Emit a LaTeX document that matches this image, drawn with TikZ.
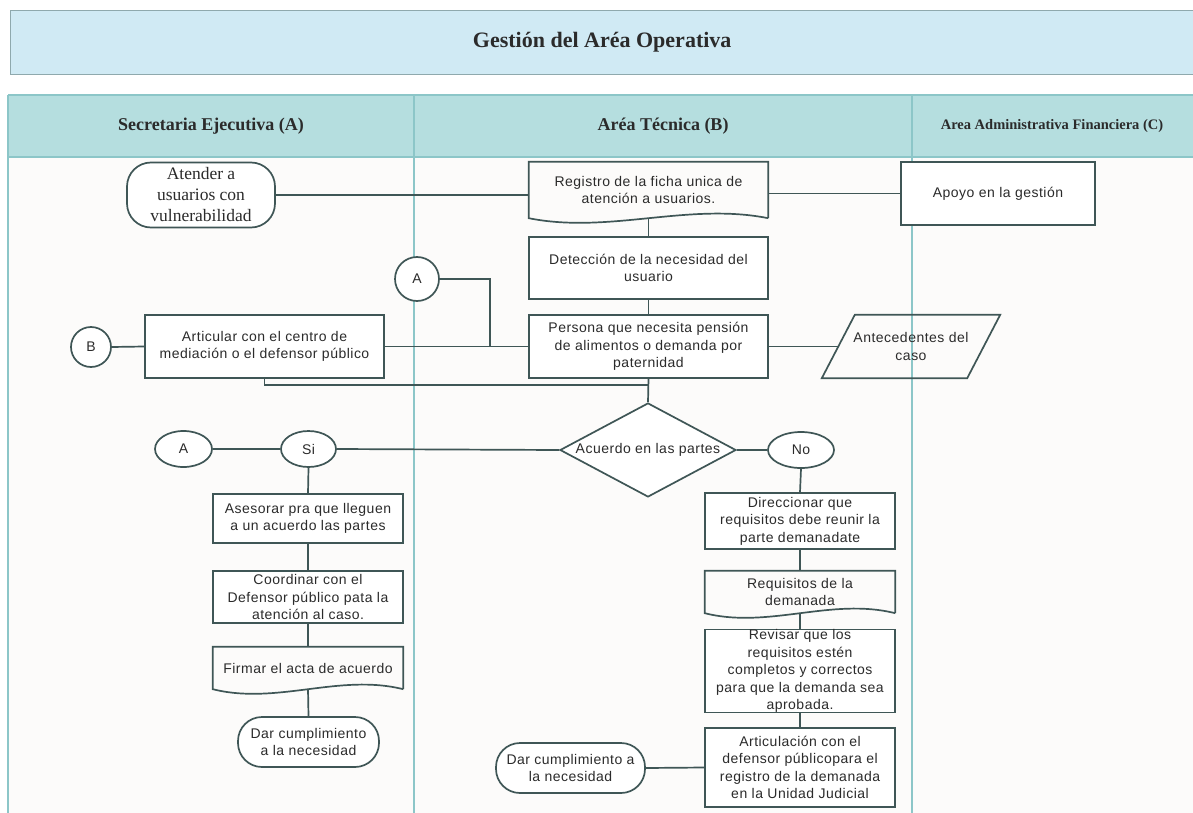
\documentclass[tikz,border=0pt]{standalone}
\usepackage{fontspec}
\setmainfont{Liberation Serif}
\newfontfamily\sansf[LetterSpace=3.5]{Liberation Sans}
\usetikzlibrary{shapes.geometric,calc}
\definecolor{ln}{HTML}{3F5656}
\definecolor{lane}{HTML}{8CC6C8}
\definecolor{hdr}{HTML}{B5DEDF}
\definecolor{ttl}{HTML}{D0EAF4}
\definecolor{ttlb}{HTML}{8FA9AD}
\definecolor{bgc}{HTML}{FCFBFA}
\definecolor{txt}{HTML}{2B2B2B}
\tikzset{
  body/.style={font=\sansf\fontsize{14}{17.5}\selectfont, text=txt, align=center, inner sep=1pt},
  box/.style={body, draw=ln, line width=1.7pt, fill=white, rectangle},
  stad/.style={box, rounded corners=24pt},
  docn/.style={body, rectangle},
  docs/.style={draw=ln, line width=1.7pt},
  circ/.style={box, circle},
  ell/.style={box, ellipse},
  conn/.style={draw=ln, line width=1.7pt},
  hdrtxt/.style={font=\bfseries\fontsize{18}{20}\selectfont, text=txt}
}
\newcommand\docshape[2]{\draw[docs] (#1.south east) -- (#1.north east) -- (#1.north west) -- (#1.south west) .. controls ($(#1.south west)+(#2,16)$) and ($(#1.south east)+(-#2,-16)$) .. (#1.south east);}
\begin{document}
\begin{tikzpicture}[x=1pt,y=-1pt]
\useasboundingbox (0,0) rectangle (1193,813);
\fill[white] (0,0) rectangle (1193,813);
% title
\node[draw=ttlb, line width=1.4pt, fill=ttl, minimum width=1183, minimum height=64, anchor=north west, font=\bfseries\fontsize{22}{24}\selectfont, text=txt] (title) at (10,10) {Gestión del Aréa Operativa};
% lanes
\fill[bgc] (8,157) rectangle (1193,813);
\fill[hdr] (8,95) rectangle (1193,157);
\draw[lane, line width=1.4pt] (8,95) -- (1193,95);
\draw[lane, line width=1.4pt] (8,157) -- (1193,157);
\draw[lane, line width=1.4pt] (8,95) -- (8,813);
\draw[lane, line width=1.4pt] (414,95) -- (414,813);
\draw[lane, line width=1.4pt] (912,95) -- (912,813);
\node[hdrtxt] (h1) at (211,126) {Secretaria Ejecutiva (A)};
\node[hdrtxt] (h2) at (663,126) {Aréa Técnica (B)};
\node[hdrtxt, font=\bfseries\fontsize{14.5}{16}\selectfont] (h3) at (1052,126) {Area Administrativa Financiera (C)};
% nodes
\node[stad, minimum width=148, minimum height=65, inner sep=0pt, font=\fontsize{17.5}{21}\selectfont] (aten) at (201,195) {Atender a\\usuarios con\\vulnerabilidad};
\node[docn, minimum width=239, minimum height=56] (reg) at (648.5,190) {Registro de la ficha unica de\\atención a usuarios.};
\node[box, minimum width=194, minimum height=63] (apoyo) at (998,193.5) {Apoyo en la gestión};
\node[box, minimum width=239, minimum height=62] (det) at (648.5,268) {Detección de la necesidad del\\usuario};
\node[circ, minimum size=44] (ca) at (417,279) {A};
\node[box, minimum width=239, minimum height=63] (pers) at (648.5,346.5) {Persona que necesita pensión\\de alimentos o demanda por\\paternidad};
\node[docn, minimum width=145, minimum height=63] (ant) at (911,346.5) {Antecedentes del\\caso};
\node[circ, minimum size=40] (cb) at (91,347) {B};
\node[box, minimum width=239, minimum height=63] (art) at (264.5,346.5) {Articular con el centro de\\mediación o el defensor público};
\node[box, diamond, aspect=1.87, minimum width=176, minimum height=94, inner sep=0pt] (dia) at (648,450) {\makebox[0pt]{Acuerdo en las partes}};
\node[ell, minimum width=57, minimum height=36] (ea) at (183.5,449) {A};
\node[ell, minimum width=55, minimum height=36] (si) at (308.5,449) {Si};
\node[ell, minimum width=66, minimum height=36] (no) at (801,450) {No};
\node[box, minimum width=190, minimum height=49] (ases) at (308,518.5) {Asesorar pra que lleguen\\a un acuerdo las partes};
\node[box, minimum width=190, minimum height=52, inner sep=0pt] (coord) at (308,597) {Coordinar con el\\Defensor público pata la\\atención al caso.};
\node[docn, minimum width=190, minimum height=42] (firm) at (308,668) {Firmar el acta de acuerdo};
\node[stad, minimum width=141, minimum height=50] (dar1) at (308.5,742) {Dar cumplimiento\\a la necesidad};
\node[box, minimum width=190, minimum height=56, inner sep=0pt] (dir) at (800,521) {Direccionar que\\requisitos debe reunir la\\parte demanadate};
\node[docn, minimum width=190, minimum height=42] (req) at (800,592) {Requisitos de la\\demanada};
\node[box, minimum width=190, minimum height=80, inner sep=0pt] (rev) at (800,671) {Revisar que los\\requisitos estén\\completos y correctos\\para que la demanda sea\\aprobada.};
\node[box, minimum width=190, minimum height=79, inner sep=0pt] (artj) at (800,767.5) {Articulación con el\\defensor públicopara el\\registro de la demanada\\en la Unidad Judicial};
\node[stad, minimum width=149, minimum height=50] (dar2) at (570.5,768) {Dar cumplimiento a\\la necesidad};
% shapes drawn by hand
\docshape{reg}{80}
\docshape{firm}{64}
\docshape{req}{64}
\draw[docs] ([xshift=16.5pt]ant.north west) -- ([xshift=16.5pt]ant.north east) -- ([xshift=-16.5pt]ant.south east) -- ([xshift=-16.5pt]ant.south west) -- cycle;
% connectors
\coordinate (j1) at (490,346.5);
\coordinate (j2) at (648.5,385);
\draw[conn] (aten.east) -- (aten.east -| reg.west);
\draw[conn] (reg.east |- apoyo.west) -- (apoyo.west);
\draw[conn] (reg.south) -- (det.north);
\draw[conn] (det.south) -- (pers.north);
\draw[conn] (ca.east) -| (j1);
\draw[conn] (pers.west) -- (art.east);
\draw[conn] (cb.east) -- (art.west);
\draw[conn] (pers.east) -- (ant.west);
\draw[conn] (art.south) |- (j2);
\draw[conn] (pers.south) -- (dia.north);
\draw[conn] (dia.west) -- (si.east);
\draw[conn] (ea.east) -- (si.west);
\draw[conn] (dia.east) -- (no.west);
\draw[conn] (si.south) -- (ases.north);
\draw[conn] (ases.south) -- (coord.north);
\draw[conn] (coord.south) -- (firm.north);
\draw[conn] (firm.south) -- (dar1.north);
\draw[conn] (no.south) -- (dir.north);
\draw[conn] (dir.south) -- (req.north);
\draw[conn] (req.south) -- (rev.north);
\draw[conn] (rev.south) -- (artj.north);
\draw[conn] (artj.west) -- (dar2.east);
\end{tikzpicture}
\end{document}
